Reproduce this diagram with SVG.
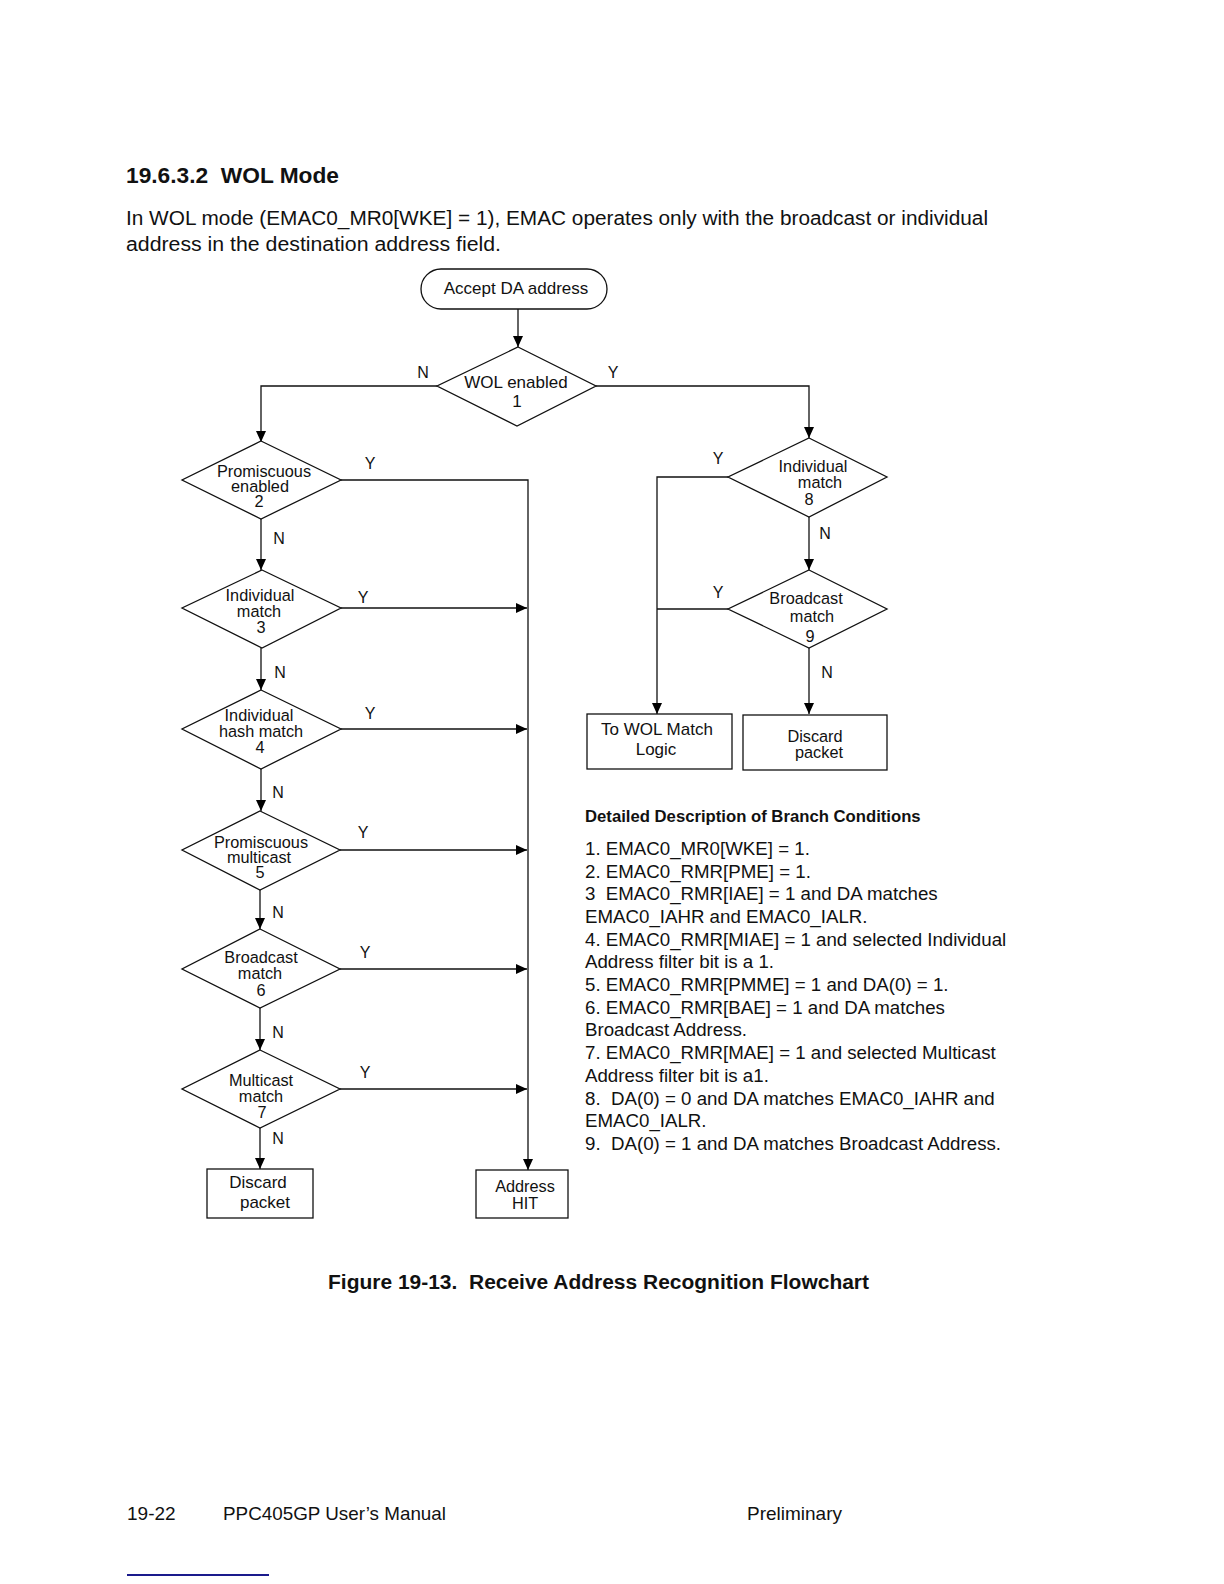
<svg xmlns="http://www.w3.org/2000/svg" width="1224" height="1584" viewBox="0 0 1224 1584">
<defs>
<marker id="arr" markerUnits="userSpaceOnUse" markerWidth="12" markerHeight="10" refX="11" refY="5" orient="auto">
<path d="M0,0 L11,5 L0,10 Z" fill="#000"/>
</marker>
<style>
text{font-family:"Liberation Sans",Arial,sans-serif;fill:#111;white-space:pre}
.n{font-size:16.3px;text-anchor:middle}
.s{font-size:17px;text-anchor:middle}
.yn{font-size:16px;text-anchor:middle}
.sh{fill:#fff;stroke:#111;stroke-width:1.3}
.c{fill:none;stroke:#111;stroke-width:1.3}
.d{font-size:18.7px}
</style>
</defs>
<rect width="1224" height="1584" fill="#fff"/>
<text x="126" y="183" style="font-size:22px;font-weight:bold" textLength="213" lengthAdjust="spacingAndGlyphs">19.6.3.2  WOL Mode</text>
<text x="126" y="225" style="font-size:20px" textLength="862" lengthAdjust="spacingAndGlyphs">In WOL mode (EMAC0_MR0[WKE] = 1), EMAC operates only with the broadcast or individual</text>
<text x="126" y="251" style="font-size:20px" textLength="375" lengthAdjust="spacingAndGlyphs">address in the destination address field.</text>

<g id="connectors">
<path class="c" d="M518,309 V347" marker-end="url(#arr)"/>
<path class="c" d="M437,386 H261 V442" marker-end="url(#arr)"/>
<path class="c" d="M596,386 H809 V438" marker-end="url(#arr)"/>
<path class="c" d="M341,480 H528 V1170" marker-end="url(#arr)"/>
<path class="c" d="M261,519 V570" marker-end="url(#arr)"/>
<path class="c" d="M341,608 H527" marker-end="url(#arr)"/>
<path class="c" d="M261,648 V690" marker-end="url(#arr)"/>
<path class="c" d="M341,729 H527" marker-end="url(#arr)"/>
<path class="c" d="M261,769 V811" marker-end="url(#arr)"/>
<path class="c" d="M340,850 H527" marker-end="url(#arr)"/>
<path class="c" d="M260,890 V929" marker-end="url(#arr)"/>
<path class="c" d="M340,969 H527" marker-end="url(#arr)"/>
<path class="c" d="M260,1008 V1050" marker-end="url(#arr)"/>
<path class="c" d="M340,1089 H527" marker-end="url(#arr)"/>
<path class="c" d="M260,1128 V1169" marker-end="url(#arr)"/>
<path class="c" d="M728,477 H657 V714" marker-end="url(#arr)"/>
<path class="c" d="M728,609 H657"/>
<path class="c" d="M809,517 V570" marker-end="url(#arr)"/>
<path class="c" d="M809,648 V714" marker-end="url(#arr)"/>
<text class="yn" x="423" y="378">N</text>
<text class="yn" x="613" y="378">Y</text>
<text class="yn" x="370" y="469">Y</text>
<text class="yn" x="279" y="544">N</text>
<text class="yn" x="363" y="603">Y</text>
<text class="yn" x="280" y="678">N</text>
<text class="yn" x="370" y="719">Y</text>
<text class="yn" x="278" y="798">N</text>
<text class="yn" x="363" y="838">Y</text>
<text class="yn" x="278" y="918">N</text>
<text class="yn" x="365" y="958">Y</text>
<text class="yn" x="278" y="1038">N</text>
<text class="yn" x="365" y="1078">Y</text>
<text class="yn" x="278" y="1144">N</text>
<text class="yn" x="718" y="464">Y</text>
<text class="yn" x="825" y="539">N</text>
<text class="yn" x="718" y="598">Y</text>
<text class="yn" x="827" y="678">N</text>
</g>

<g id="start">
<rect class="sh" x="421" y="269" width="186" height="40" rx="20"/>
<text class="s" x="516" y="294">Accept DA address</text>
</g>
<g id="d1">
<path class="sh" d="M518,347 L596,386 L517,426 L437,386 Z"/>
<text class="s" x="516" y="388">WOL enabled</text>
<text class="s" x="517" y="407">1</text>
</g>
<g id="d2">
<path class="sh" d="M261,441 L341,480 L261,519 L182,480 Z"/>
<text class="n" x="264" y="477">Promiscuous</text>
<text class="n" x="260" y="492">enabled</text>
<text class="n" x="259" y="507">2</text>
</g>
<g id="d3">
<path class="sh" d="M262,570 L341,608 L262,648 L182,608 Z"/>
<text class="n" x="260" y="601">Individual</text>
<text class="n" x="259" y="617">match</text>
<text class="n" x="261" y="633">3</text>
</g>
<g id="d4">
<path class="sh" d="M261,690 L341,729 L261,769 L182,729 Z"/>
<text class="n" x="259" y="721">Individual</text>
<text class="n" x="261" y="737">hash match</text>
<text class="n" x="260" y="753">4</text>
</g>
<g id="d5">
<path class="sh" d="M260,811 L340,850 L260,890 L182,850 Z"/>
<text class="n" x="261" y="848">Promiscuous</text>
<text class="n" x="259" y="863">multicast</text>
<text class="n" x="260" y="878">5</text>
</g>
<g id="d6">
<path class="sh" d="M260,929 L340,969 L260,1008 L182,969 Z"/>
<text class="n" x="261" y="963">Broadcast</text>
<text class="n" x="260" y="979">match</text>
<text class="n" x="261" y="996">6</text>
</g>
<g id="d7">
<path class="sh" d="M260,1050 L340,1089 L260,1128 L182,1089 Z"/>
<text class="n" x="261" y="1086">Multicast</text>
<text class="n" x="261" y="1102">match</text>
<text class="n" x="262" y="1118">7</text>
</g>
<g id="discard1">
<rect class="sh" x="207" y="1169" width="106" height="49"/>
<text class="s" x="258" y="1188">Discard</text>
<text class="s" x="265" y="1208">packet</text>
</g>
<g id="hit">
<rect class="sh" x="476" y="1170" width="92" height="48"/>
<text class="n" x="525" y="1192">Address</text>
<text class="n" x="525" y="1209">HIT</text>
</g>
<g id="d8">
<path class="sh" d="M809,438 L887,477 L809,517 L728,477 Z"/>
<text class="n" x="813" y="472">Individual</text>
<text class="n" x="820" y="488">match</text>
<text class="n" x="809" y="505">8</text>
</g>
<g id="d9">
<path class="sh" d="M809,570 L887,609 L809,648 L728,609 Z"/>
<text class="n" x="806" y="604">Broadcast</text>
<text class="n" x="812" y="622">match</text>
<text class="n" x="810" y="642">9</text>
</g>
<g id="wol">
<rect class="sh" x="587" y="714" width="145" height="55"/>
<text class="s" x="657" y="735">To WOL Match</text>
<text class="s" x="656" y="755">Logic</text>
</g>
<g id="discard2">
<rect class="sh" x="743" y="715" width="144" height="55"/>
<text class="n" x="815" y="742">Discard</text>
<text class="n" x="819" y="758">packet</text>
</g>

<g id="description">
<text x="585" y="822" style="font-size:16.7px;font-weight:bold">Detailed Description of Branch Conditions</text>
<text class="d" x="585" y="855">1. EMAC0_MR0[WKE] = 1.</text>
<text class="d" x="585" y="878">2. EMAC0_RMR[PME] = 1.</text>
<text class="d" x="585" y="900">3  EMAC0_RMR[IAE] = 1 and DA matches</text>
<text class="d" x="585" y="923">EMAC0_IAHR and EMAC0_IALR.</text>
<text class="d" x="585" y="946">4. EMAC0_RMR[MIAE] = 1 and selected Individual</text>
<text class="d" x="585" y="968">Address filter bit is a 1.</text>
<text class="d" x="585" y="991">5. EMAC0_RMR[PMME] = 1 and DA(0) = 1.</text>
<text class="d" x="585" y="1014">6. EMAC0_RMR[BAE] = 1 and DA matches</text>
<text class="d" x="585" y="1036">Broadcast Address.</text>
<text class="d" x="585" y="1059">7. EMAC0_RMR[MAE] = 1 and selected Multicast</text>
<text class="d" x="585" y="1082">Address filter bit is a1.</text>
<text class="d" x="585" y="1105">8.  DA(0) = 0 and DA matches EMAC0_IAHR and</text>
<text class="d" x="585" y="1127">EMAC0_IALR.</text>
<text class="d" x="585" y="1150">9.  DA(0) = 1 and DA matches Broadcast Address.</text>
</g>

<text x="328" y="1289" style="font-size:20px;font-weight:bold" textLength="541" lengthAdjust="spacingAndGlyphs">Figure 19-13.  Receive Address Recognition Flowchart</text>
<text x="127" y="1520" style="font-size:19px">19-22</text>
<text x="223" y="1520" style="font-size:19px" textLength="223" lengthAdjust="spacingAndGlyphs">PPC405GP User’s Manual</text>
<text x="747" y="1520" style="font-size:19px" textLength="95" lengthAdjust="spacingAndGlyphs">Preliminary</text>
<line x1="127" y1="1575" x2="269" y2="1575" stroke="#1a1a8c" stroke-width="2"/>
</svg>
